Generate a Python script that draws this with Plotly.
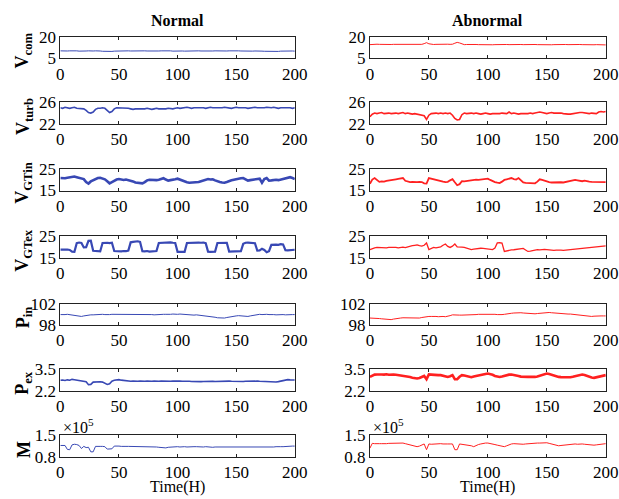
import plotly.graph_objects as go

# ---------------- data ----------------
TIME = list(range(0, 201, 2))  # hours, one sample every 2 H
X_TICKS = [0, 50, 100, 150, 200]
COL_TITLES = ["Normal", "Abnormal"]
ROW_LABELS = ["V<sub>com</sub>", "V<sub>turb</sub>", "V<sub>GTin</sub>", "V<sub>GTex</sub>",
              "P<sub>in</sub>", "P<sub>ex</sub>", "M"]
Y_TICKS = [[5, 20], [22, 26], [15, 25], [15, 25], [98, 102], [2.2, 3.5], [0.8, 1.5]]
Y_TICKTEXT = [["5", "20"], ["22", "26"], ["15", "25"], ["15", "25"], ["98", "102"], ["2.2", "3.5"], ["0.8", "1.5"]]
X_TITLE = "Time(H)"
M_EXPONENT = "\u00d710<sup>5</sup>"

N_VCOM = [10.2,10.0,10.3,10.1,10.2,10.3,10.1,10.2,10.0,10.2,10.3,10.1,10.2,10.0,10.1,10.2,10.3,10.1,9.9,9.8,
          9.6,9.7,9.8,10.0,10.1,10.3,10.2,10.4,10.3,10.2,
          10.1,10.2,10.0,10.1,10.2,10.3,10.2,10.1,10.0,10.2,10.3,10.2,10.1,10.2,10.3,10.2,10.1,10.2,10.0,10.1,
          10.3,10.2,10.1,10.0,10.1,10.2,10.1,10.0,10.1,10.2,10.1,10.0,10.2,10.1,10.0,10.1,10.2,10.1,10.0,10.1,
          10.2,10.1,10.2,10.3,10.2,10.1,10.2,10.1,10.0,10.1,10.2,10.1,10.0,10.1,10.2,10.1,10.0,9.9,9.8,9.8,
          9.7,9.6,9.7,9.8,10.0,10.1,10.2,10.1,10.0,10.1,10.0]
A_VCOM = [14.6,14.8,14.7,14.9,14.8,14.7,14.8,14.9,14.8,14.7,14.8,14.8,14.9,14.8,14.7,14.8,14.9,14.8,14.7,14.8,
          14.8,14.9,14.8,15.3,16.0,15.2,14.8,14.7,14.8,14.9,
          14.8,14.7,14.8,14.9,14.8,14.9,15.6,16.2,15.8,14.9,14.6,14.7,14.8,14.7,14.6,14.7,14.6,14.5,14.4,14.3,
          14.2,14.3,14.5,14.6,14.7,14.6,14.7,14.8,14.7,14.6,14.7,14.8,14.7,14.6,14.7,14.6,14.7,14.8,14.7,14.6,
          14.7,14.6,14.5,14.4,14.3,14.2,14.4,14.5,14.6,14.7,14.6,14.7,14.8,14.7,14.6,14.7,14.6,14.5,14.6,14.7,
          14.6,14.5,14.6,14.7,14.6,14.5,14.6,14.5,14.4,14.5,14.4]

N_VTURB = [25.0,24.9,25.1,25.0,24.9,25.0,25.1,24.9,24.9,24.8,
           24.8,24.5,24.1,24.0,24.2,24.7,24.9,24.9,25.0,24.9,
           24.4,24.1,24.3,24.8,25.0,25.0,24.9,25.0,25.0,24.9,
           24.8,24.7,24.8,24.8,24.7,24.8,24.8,24.9,24.8,24.7,24.8,24.9,24.8,24.8,24.7,24.8,24.9,24.8,24.8,24.9,
           25.0,24.9,25.0,25.0,25.1,25.0,24.9,25.0,25.0,25.1,25.0,25.0,24.9,25.0,25.1,25.0,25.0,24.9,25.0,25.0,
           25.1,25.0,25.0,24.9,25.0,25.1,25.0,25.0,25.1,25.0,24.9,25.0,25.0,25.1,25.0,25.0,24.9,25.0,25.1,25.0,
           25.0,25.1,25.0,24.9,25.0,25.0,25.1,25.0,25.0,24.9,25.0]
A_VTURB = [23.3,23.8,24.0,23.9,24.0,24.1,23.9,24.0,24.0,23.9,
           24.0,24.0,23.9,24.0,24.1,23.9,24.0,23.9,23.8,23.9,
           23.8,23.7,23.7,23.5,22.8,23.6,23.9,24.0,24.0,23.9,
           24.0,23.9,24.0,23.9,24.0,23.6,23.0,22.7,22.8,23.7,
           24.0,23.9,24.0,24.0,23.9,24.0,23.9,23.8,23.9,24.0,
           23.9,23.8,23.9,23.9,23.8,23.9,24.0,23.9,23.9,24.2,23.9,24.0,23.9,23.8,23.9,23.9,23.8,23.9,24.0,23.9,
           24.0,24.1,24.2,24.1,24.0,23.9,24.0,24.1,24.0,24.0,24.1,24.0,23.9,23.8,23.8,23.8,23.9,24.0,24.0,24.1,
           24.1,24.0,24.0,23.9,24.0,24.0,23.9,24.2,24.3,24.2,24.3]

N_VGTIN = [20.9,20.7,20.8,21.0,21.1,21.4,21.6,21.3,21.0,20.7,
           20.4,19.0,18.3,19.3,19.8,20.3,20.9,21.0,20.6,20.3,
           19.4,18.4,19.0,19.7,20.2,20.4,20.2,20.0,20.2,19.9,
           19.8,19.3,18.8,18.6,18.5,18.4,19.0,19.8,20.1,20.0,
           20.2,19.9,20.1,20.3,20.8,20.2,19.7,19.9,20.0,20.3,
           20.6,20.1,19.7,19.3,18.9,18.7,18.8,18.6,18.7,19.0,
           19.4,19.8,20.3,20.4,20.2,20.3,19.8,19.2,19.0,18.8,
           18.7,19.0,19.5,19.8,20.1,20.4,20.6,20.8,20.9,20.3,
           19.7,19.9,20.1,20.2,20.4,20.6,18.7,20.4,20.9,19.7,
           19.8,20.0,20.1,19.9,20.2,20.6,20.9,21.2,21.3,20.9,20.4]
A_VGTIN = [18.2,20.2,20.9,20.0,19.1,19.3,19.2,19.6,19.7,19.9,
           20.2,20.3,20.5,20.7,20.9,19.6,19.2,19.0,19.1,18.9,
           19.0,19.1,19.0,18.4,18.3,20.9,20.6,20.1,19.9,19.6,
           19.4,19.2,19.0,19.1,19.8,20.4,18.9,17.5,18.0,19.4,
           19.3,19.5,19.4,19.6,19.9,20.1,20.0,20.2,20.1,20.3,
           20.6,20.0,19.4,19.0,18.7,18.5,19.2,20.0,20.3,20.6,
           20.9,20.4,20.2,20.9,19.8,18.8,18.6,18.5,18.6,18.4,
           18.4,19.2,20.3,20.0,19.6,19.4,19.0,18.8,18.9,18.7,
           18.8,18.9,18.8,19.1,19.4,19.7,19.9,20.0,19.8,19.6,
           19.4,19.7,19.3,19.2,19.1,19.1,19.0,19.2,19.0,19.1,19.0]

N_VGTEX = [18.8,18.9,18.7,18.8,18.6,17.8,17.7,21.8,22.1,21.9,
           19.8,19.9,22.9,23.0,18.2,18.0,18.1,17.9,21.9,22.1,
           22.0,21.8,22.0,18.1,18.0,18.2,17.9,18.1,18.0,18.3,
           22.2,22.4,22.6,22.7,22.4,18.0,17.9,18.1,17.8,18.0,
           17.9,18.1,21.9,22.0,22.1,21.9,22.0,22.2,22.0,21.9,
           17.7,17.6,17.8,17.7,21.9,22.0,22.1,22.0,22.2,22.1,
           22.0,22.1,21.8,17.8,17.7,17.9,17.8,21.9,22.0,22.1,
           21.9,22.0,17.8,17.9,17.7,17.8,17.9,18.0,21.5,22.0,
           22.1,21.9,22.0,21.8,18.3,18.4,19.2,18.6,17.5,18.0,
           21.0,21.2,21.1,21.0,21.3,21.2,18.5,18.4,18.6,18.5,18.7]
A_VGTEX = [18.8,19.3,19.6,19.8,19.7,19.9,19.8,19.6,19.8,19.9,
           19.7,19.8,19.6,19.8,19.9,19.7,20.1,20.4,20.6,20.8,
           21.0,20.6,20.4,20.8,21.9,18.8,19.3,19.8,19.6,19.9,
           20.1,20.8,21.4,20.3,19.8,20.4,21.4,20.0,19.8,19.9,
           19.8,19.5,19.0,18.8,19.0,19.2,19.3,19.4,19.3,19.1,
           19.0,18.9,18.8,19.5,21.9,22.0,21.8,17.9,18.2,18.4,
           18.6,18.7,18.8,19.0,19.2,19.3,18.6,17.9,18.0,18.3,
           18.5,18.7,18.6,18.8,18.9,18.8,18.6,18.5,18.4,18.5,
           18.6,18.5,18.4,18.6,18.7,18.8,18.9,19.0,19.1,19.2,
           19.3,19.4,19.5,19.6,19.7,19.8,19.9,20.1,20.3,20.4,20.5]

N_PIN = [99.95,99.9,99.95,100.0,99.95,99.9,99.85,99.8,99.65,99.6,
         99.7,99.8,99.85,99.9,99.9,99.95,99.9,99.95,100.0,99.95,
         99.9,99.95,100.0,100.0,99.95,100.0,100.05,100.0,99.95,100.0,
         100.0,100.05,100.0,99.95,100.0,100.0,100.05,100.0,99.95,99.95,
         99.9,99.95,100.0,100.05,100.0,100.0,99.95,100.0,100.05,100.0,
         100.0,100.05,100.0,99.95,99.9,99.95,99.9,99.85,99.9,99.85,
         99.85,99.8,99.75,99.7,99.6,99.5,99.45,99.35,99.3,99.25,
         99.3,99.4,99.5,99.6,99.65,99.7,99.75,99.7,99.65,99.6,
         99.6,99.7,99.8,99.9,99.95,100.0,99.95,100.0,100.0,99.95,
         100.0,99.95,99.9,99.95,100.0,99.95,99.9,99.95,100.0,99.95,99.95]
A_PIN = [99.3,99.3,99.25,99.2,99.2,99.15,99.1,99.05,99.0,99.0,
         99.1,99.2,99.25,99.3,99.35,99.35,99.3,99.3,99.25,99.25,
         99.25,99.3,99.4,99.5,99.55,99.6,99.6,99.65,99.6,99.55,
         99.6,99.6,99.55,99.6,99.75,99.9,99.85,99.8,99.85,99.85,
         99.85,99.9,99.9,99.95,99.9,99.95,100.0,100.0,100.05,100.05,
         100.05,100.1,100.05,100.0,99.95,99.9,99.95,100.0,100.1,100.15,
         100.2,100.25,100.3,100.3,100.3,100.25,100.2,100.15,100.1,100.1,
         100.1,100.15,100.2,100.25,100.3,100.35,100.35,100.3,100.25,100.2,
         100.15,100.1,100.1,100.05,100.05,100.05,100.0,99.95,99.9,99.85,
         99.8,99.7,99.6,99.55,99.6,99.65,99.7,99.7,99.7,99.7,99.7]

N_PEX = [2.83,2.85,2.82,2.86,2.84,2.89,2.87,2.85,2.83,2.82,
         2.79,2.74,2.56,2.58,2.72,2.74,2.73,2.74,2.72,2.65,
         2.58,2.62,2.78,2.83,2.85,2.87,2.84,2.82,2.79,2.78,
         2.77,2.78,2.76,2.77,2.78,2.76,2.77,2.78,2.76,2.77,
         2.78,2.76,2.77,2.78,2.77,2.76,2.78,2.77,2.78,2.79,
         2.79,2.78,2.77,2.78,2.76,2.77,2.76,2.75,2.76,2.75,
         2.75,2.76,2.77,2.76,2.78,2.77,2.76,2.77,2.78,2.77,
         2.76,2.77,2.78,2.77,2.76,2.77,2.78,2.77,2.76,2.77,
         2.78,2.77,2.76,2.77,2.78,2.77,2.76,2.77,2.77,2.76,
         2.75,2.74,2.73,2.75,2.78,2.82,2.85,2.87,2.86,2.85,2.85]
A_PEX = [3.04,3.12,3.18,3.19,3.17,3.19,3.18,3.20,3.17,3.19,
         3.19,3.17,3.15,3.13,3.11,3.10,3.07,3.03,2.99,2.96,
         2.94,2.97,3.02,3.10,2.90,3.19,3.18,3.16,3.17,3.15,
         3.15,3.12,3.06,3.04,3.08,3.15,2.90,2.90,3.05,3.15,
         3.13,3.08,3.03,3.02,3.06,3.10,3.14,3.17,3.19,3.22,
         3.25,3.22,3.17,3.10,3.06,3.04,3.07,3.12,3.16,3.18,
         3.19,3.17,3.14,3.10,3.06,3.04,3.03,3.04,3.05,3.04,
         3.04,3.07,3.12,3.18,3.22,3.25,3.22,3.17,3.11,3.06,
         3.04,3.03,3.02,3.03,3.02,3.02,3.05,3.09,3.14,3.17,
         3.19,3.16,3.10,3.04,3.00,2.98,3.01,3.06,3.10,3.13,3.15]

# M in units of 1e5
N_M = [1.17,1.16,1.17,1.04,1.03,1.19,1.21,1.20,1.17,1.07,
       1.14,1.10,1.11,0.96,0.96,1.14,1.15,1.14,1.14,1.13,
       1.05,1.05,1.06,1.15,1.16,1.15,1.14,1.15,1.14,1.14,
       1.14,1.14,1.13,1.14,1.13,1.14,1.13,1.13,1.14,1.13,
       1.13,1.12,1.11,1.10,1.08,1.09,1.11,1.12,1.12,1.13,
       1.13,1.12,1.13,1.13,1.12,1.13,1.14,1.13,1.13,1.12,
       1.13,1.12,1.13,1.12,1.12,1.11,1.12,1.12,1.11,1.12,
       1.12,1.11,1.12,1.11,1.11,1.11,1.12,1.11,1.10,1.11,
       1.11,1.12,1.11,1.11,1.12,1.11,1.12,1.12,1.11,1.12,
       1.12,1.12,1.13,1.12,1.13,1.13,1.14,1.14,1.15,1.15,1.15]
A_M = [1.08,1.24,1.23,1.24,1.23,1.23,1.22,1.23,1.24,1.24,
       1.25,1.25,1.26,1.26,1.25,1.23,1.21,1.19,1.16,1.14,
       1.13,1.15,1.18,1.22,1.03,1.22,1.21,1.22,1.23,1.23,
       1.23,1.22,1.23,1.22,1.22,1.22,1.03,1.03,1.22,1.21,
       1.20,1.18,1.17,1.16,1.13,1.17,1.20,1.22,1.24,1.25,
       1.25,1.24,1.22,1.20,1.18,1.16,1.14,1.13,1.16,1.20,
       1.22,1.23,1.22,1.21,1.20,1.21,1.22,1.23,1.24,1.25,
       1.24,1.25,1.25,1.26,1.26,1.26,1.24,1.22,1.20,1.18,
       1.16,1.17,1.18,1.19,1.20,1.21,1.22,1.22,1.21,1.22,
       1.22,1.21,1.20,1.19,1.18,1.18,1.19,1.20,1.21,1.22,1.23]

NORMAL = [N_VCOM, N_VTURB, N_VGTIN, N_VGTEX, N_PIN, N_PEX, N_M]
ABNORMAL = [A_VCOM, A_VTURB, A_VGTIN, A_VGTEX, A_PIN, A_PEX, A_M]

# ---------------- style / layout ----------------
W, H = 619, 499            # design space (reference picture pixels)
FIG_W, FIG_H = 632, 506    # figure size so that the captured paper fills the picture
BLUE = "#3848b4"
RED = "#ff2020"
N_WIDTH = [1.0, 1.6, 2.6, 2.2, 1.0, 1.6, 1.0]
A_WIDTH = [1.0, 1.6, 1.8, 1.3, 1.0, 2.6, 1.0]
FONT = "Liberation Serif, Times New Roman, serif"
TICK_SIZE = 17

COL_X = [(56.7, 292.7), (368.3, 605.7)]
ROW_TOP = [28.7, 95.8, 164.3, 233.0, 302.0, 369.3, 437.0]
ROW_H = 21.7

fig = go.Figure()
layout = dict(
    width=FIG_W, height=FIG_H,
    margin=dict(l=0, r=0, t=0, b=0),
    paper_bgcolor="white", plot_bgcolor="white",
    showlegend=False,
    font=dict(family=FONT, size=TICK_SIZE, color="black"),
)
annotations = []

for r in range(7):
    top = ROW_TOP[r]
    bot = top + ROW_H
    ydom = [1 - bot / H, 1 - top / H]
    for c in range(2):
        n = r * 2 + c + 1
        xs = "" if n == 1 else str(n)
        series = NORMAL[r] if c == 0 else ABNORMAL[r]
        color = BLUE if c == 0 else RED
        width = N_WIDTH[r] if c == 0 else A_WIDTH[r]
        fig.add_trace(go.Scatter(x=TIME, y=series, mode="lines",
                                 line=dict(color=color, width=width),
                                 xaxis="x" + xs, yaxis="y" + xs))
        xd = [COL_X[c][0] / W, COL_X[c][1] / W]
        common = dict(showline=True, linecolor="#222222", linewidth=1, mirror="ticks",
                      ticks="inside", ticklen=3, tickcolor="#222222", showgrid=False,
                      zeroline=False, ticklabeloverflow="allow",
                      tickfont=dict(family=FONT, size=TICK_SIZE, color="black"))
        layout["xaxis" + xs] = dict(domain=xd, anchor="y" + xs, range=[0, 200],
                                    tickvals=X_TICKS, ticktext=[str(v) for v in X_TICKS], **common)
        layout["yaxis" + xs] = dict(domain=ydom, anchor="x" + xs, range=Y_TICKS[r],
                                    tickvals=Y_TICKS[r], ticktext=Y_TICKTEXT[r], **common)
    # row label
    annotations.append(dict(text="<b>" + ROW_LABELS[r] + "</b>", xref="paper", yref="paper",
                            x=20 / W, y=1 - (top + ROW_H / 2 + 3) / H, showarrow=False,
                            textangle=-90, xanchor="center", yanchor="middle",
                            font=dict(family=FONT, size=18, color="black")))

# column titles
for c in range(2):
    cx = (COL_X[c][0] + COL_X[c][1]) / 2
    annotations.append(dict(text="<b>" + COL_TITLES[c] + "</b>", xref="paper", yref="paper",
                            x=cx / W, y=1 - 12 / H, showarrow=False, xanchor="center", yanchor="middle",
                            font=dict(family=FONT, size=16, color="black")))
    annotations.append(dict(text=X_TITLE, xref="paper", yref="paper",
                            x=cx / W, y=1 - 490 / H, showarrow=False, xanchor="center", yanchor="middle",
                            font=dict(family=FONT, size=16, color="black")))
    annotations.append(dict(text=M_EXPONENT, xref="paper", yref="paper",
                            x=(COL_X[c][0] + 1) / W, y=1 - 427 / H, showarrow=False,
                            xanchor="left", yanchor="middle",
                            font=dict(family=FONT, size=16, color="black")))

layout["annotations"] = annotations
fig.update_layout(**layout)
fig.write_html("out.html", config={"displayModeBar": False},
               post_script="document.body.style.margin='0';document.body.style.overflow='hidden';")
